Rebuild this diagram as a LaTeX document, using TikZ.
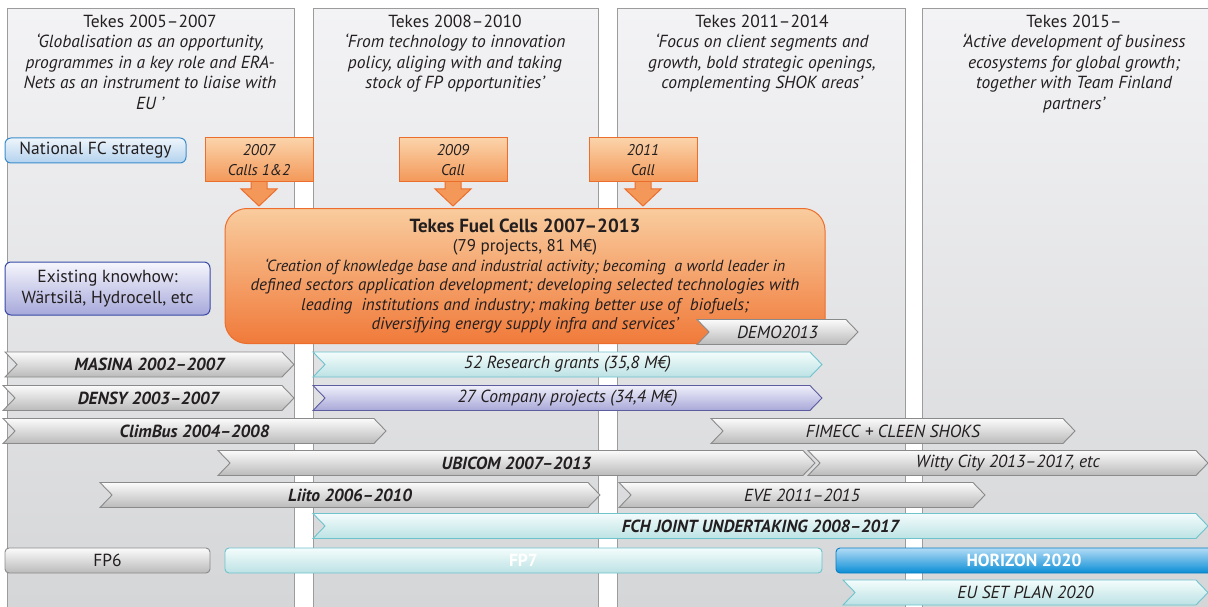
\documentclass[tikz,border=0pt]{standalone}
\usepackage{fontspec}
\setmainfont{PT Sans}
\usetikzlibrary{positioning,shapes.symbols}

\definecolor{inkgray}{HTML}{231F20}
\definecolor{paneltop}{HTML}{F3F3F5}
\definecolor{panelbot}{HTML}{D4D5D7}
\definecolor{panelline}{HTML}{9C9C9C}
\definecolor{orangetop}{HTML}{F9CC9E}
\definecolor{orangebot}{HTML}{F07A3A}
\definecolor{orangeline}{HTML}{EC6E2C}
\definecolor{calltop}{HTML}{FBD3AA}
\definecolor{callbot}{HTML}{F39858}
\definecolor{fctop}{HTML}{EEF5FB}
\definecolor{fcbot}{HTML}{B3D2EE}
\definecolor{fcline}{HTML}{3C8DCB}
\definecolor{knowtop}{HTML}{F6F6FD}
\definecolor{knowbot}{HTML}{A6A8DA}
\definecolor{knowline}{HTML}{3949A6}
\definecolor{graytop}{HTML}{FBFBFB}
\definecolor{graybot}{HTML}{BABABA}
\definecolor{grayline}{HTML}{8A8A8A}
\definecolor{tealtop}{HTML}{F4FCFC}
\definecolor{tealbot}{HTML}{BCE2E4}
\definecolor{tealline}{HTML}{6EC3CD}
\definecolor{lilatop}{HTML}{EFEFFB}
\definecolor{lilabot}{HTML}{A8A8D8}
\definecolor{lilaline}{HTML}{5C5C9E}
\definecolor{hortop}{HTML}{B2DBF5}
\definecolor{horbot}{HTML}{0A8ED6}
\definecolor{horline}{HTML}{0A7CC0}

\tikzset{
  txt/.style={font=\fontsize{17.5}{20.5}\selectfont, text=inkgray},
  panel/.style={draw=panelline, line width=1pt, top color=paneltop, bottom color=panelbot},
  coltitle/.style={txt, align=center, anchor=north, inner sep=0pt},
  callbox/.style={txt, font=\itshape\fontsize{15.5}{20}\selectfont, align=center, draw=orangeline,
    line width=1pt, top color=calltop, bottom color=callbot, minimum width=108pt, minimum height=44pt, inner sep=0pt},
  callarrow/.style={fill=callbot, draw=orangeline, line width=1pt, line join=miter},
  fcbox/.style={txt, font=\fontsize{17}{19.4}\selectfont, align=center, draw=orangeline, line width=1pt, rounded corners=22pt,
    top color=orangetop, bottom color=orangebot, minimum width=600pt, minimum height=135pt, inner sep=0pt},
  infobox/.style={txt, align=center, rounded corners=6pt, line width=1pt, inner sep=0pt},
  chev/.style={txt, font=\itshape\fontsize{17.5}{18}\selectfont, signal, signal from=west, signal to=east,
    signal pointer angle=92, minimum height=25pt, inner sep=0pt, line width=0.9pt},
  graychev/.style={chev, draw=grayline, top color=graytop, bottom color=graybot},
  tealchev/.style={chev, draw=tealline, top color=tealtop, bottom color=tealbot},
  lilachev/.style={chev, draw=lilaline, top color=lilatop, bottom color=lilabot},
  bar/.style={txt, rounded corners=4pt, minimum height=25pt, inner sep=0pt, line width=0.9pt},
}

\begin{document}
\begin{tikzpicture}[x=1pt,y=-1pt]
\useasboundingbox (0,0) rectangle (1208,607);

% period panels
\draw[panel] (7,9) rectangle (294,625);
\draw[panel] (313,9) rectangle (598,625);
\draw[panel] (617,9) rectangle (905,625);
\draw[panel] (922,9) rectangle (1220,625);

\node[coltitle] (p1) at (150,14.5) {Tekes 2005–2007\\ \itshape ‘Globalisation as an opportunity,\\ \itshape programmes in a key role and ERA-\\ \itshape Nets as an instrument to liaise with\\ \itshape EU ’};
\node[coltitle] (p2) at (455,14.5) {Tekes 2008–2010\\ \itshape ‘From technology to innovation\\ \itshape policy, aliging with and taking\\ \itshape stock of FP opportunities’};
\node[coltitle] (p3) at (762,14.5) {Tekes 2011–2014\\ \itshape ‘Focus on client segments and\\ \itshape growth, bold strategic openings,\\ \itshape complementing SHOK areas’};
\node[coltitle] (p4) at (1074,14.5) {Tekes 2015–\\ \itshape ‘Active development of business\\ \itshape ecosystems for global growth;\\ \itshape together with Team Finland\\ \itshape partners’};

% national strategy and knowhow
\node[infobox, draw=fcline, top color=fctop, bottom color=fcbot, minimum width=181pt, minimum height=25pt] (natfc) at (95.5,150.5) {National FC strategy};
\node[infobox, draw=knowline, top color=knowtop, bottom color=knowbot, minimum width=205pt, minimum height=53pt] (know) at (107.5,288.5) {Existing knowhow:\\Wärtsilä, Hydrocell, etc};

% calls
\foreach \cx/\nm/\lbl in {259/call07/{2007\\Calls 1\&2}, 453/call09/{2009\\Call}, 643/call11/{2011\\Call}}{
  \draw[callarrow] (\cx-8,181) -- (\cx-8,189) -- (\cx-18,189) -- (\cx,206) -- (\cx+18,189) -- (\cx+8,189) -- (\cx+8,181);
  \node[callbox] (\nm) at (\cx,160) {\lbl};
}

% programme box
\node[fcbox] (fc) at (525,276) {{\bfseries\fontsize{19}{20}\selectfont Tekes Fuel Cells 2007–2013}\\
  (79 projects, 81 M€)\\
  \fontsize{16.1}{19.4}\selectfont\itshape ‘Creation of knowledge base and industrial activity; becoming\ \ a world leader in\\
  \itshape defined sectors application development; developing selected technologies with\\
  \itshape leading\ \ institutions and industry; making better use of\ \ biofuels;\\
  \itshape diversifying energy supply infra and services’};
\node[graychev, minimum width=161pt] (demo) at (777.5,332) {DEMO2013};

% programme rows
\node[graychev, minimum width=289pt] (masina) at (149.5,364.5) {\bfseries MASINA 2002–2007};
\node[tealchev, minimum width=509pt] (grants) at (567.5,364.5) {52 Research grants (35,8 M€)};
\node[graychev, minimum width=291pt] (densy) at (148.5,398) {\bfseries DENSY 2003–2007};
\node[lilachev, minimum width=509pt] (company) at (567.5,398) {27 Company projects (34,4 M€)};
\node[graychev, minimum width=383pt] (climbus) at (194.5,431) {\bfseries ClimBus 2004–2008};
\node[graychev, minimum width=364pt] (fimecc) at (893,431) {FIMECC + CLEEN SHOKS};
\node[graychev, minimum width=597pt] (ubicom) at (516.5,463) {\bfseries UBICOM 2007–2013};
\node[graychev, minimum width=400pt] (witty) at (1008,463) {Witty City 2013–2017, etc};
\node[graychev, minimum width=500pt] (liito) at (350,495) {\bfseries Liito 2006–2010};
\node[graychev, minimum width=366pt] (eve) at (802,495) {EVE 2011–2015};
\node[tealchev, minimum width=895pt] (fch) at (760.5,526) {\bfseries FCH JOINT UNDERTAKING 2008–2017};

% framework programmes
\node[bar, draw=grayline, top color=graytop, bottom color=graybot, minimum width=205pt] (fp6) at (107.5,560.5) {FP6};
\node[bar, draw=tealline, top color=tealtop, bottom color=tealbot, minimum width=597pt, text=white, font=\bfseries\fontsize{17.5}{18}\selectfont] (fp7) at (523.5,560.5) {FP7};
\node[bar, draw=horline, top color=hortop, bottom color=horbot, minimum width=376pt, text=white, font=\bfseries\fontsize{17.5}{18}\selectfont] (h2020) at (1024,560.5) {HORIZON 2020};
\node[tealchev, minimum width=365pt] (setplan) at (1025.5,592.5) {EU SET PLAN 2020};
\end{tikzpicture}
\end{document}
